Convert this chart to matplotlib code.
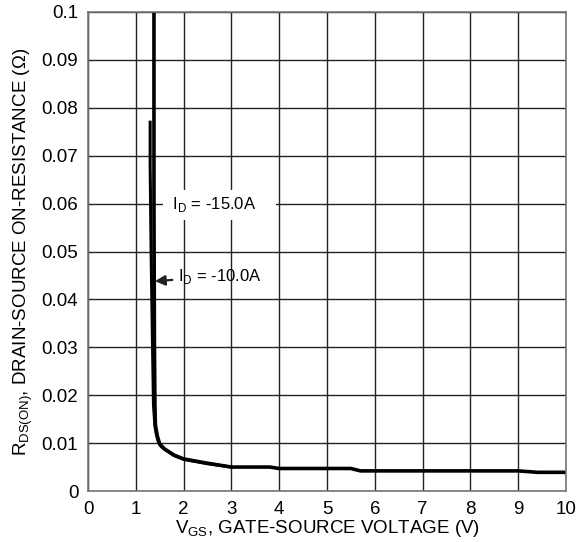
import matplotlib
matplotlib.use("Agg")
import matplotlib.pyplot as plt

plt.rcParams['font.family'] = ['Liberation Sans', 'DejaVu Sans']
plt.rcParams['mathtext.fontset'] = 'custom'
plt.rcParams['mathtext.rm'] = 'Liberation Sans'

# I_D = -15.0A curve
vgs_15 = [1.38, 1.38, 1.39, 1.40, 1.41, 1.45, 1.5, 1.6, 1.8, 2.0, 2.5, 3.0, 3.5, 3.8, 4.0, 5.0, 5.5, 5.7, 6.0, 7.0, 8.0, 9.0, 9.4, 10.0]
rds_15 = [0.1, 0.06, 0.03, 0.018, 0.0138, 0.0115, 0.0098, 0.0088, 0.0075, 0.0067, 0.0058, 0.0050, 0.0050, 0.0050, 0.0047, 0.0047, 0.0047, 0.0042, 0.0042, 0.0042, 0.0042, 0.0042, 0.0039, 0.0039]
# I_D = -10.0A curve
vgs_10 = [1.30, 1.30, 1.32, 1.35, 1.37, 1.40, 1.43, 1.47, 1.52, 1.6, 1.8, 2.0, 2.5, 3.0]
rds_10 = [0.077, 0.068, 0.05, 0.03, 0.018, 0.0135, 0.0118, 0.0103, 0.0094, 0.0087, 0.0074, 0.0066, 0.0057, 0.0050]

x_ticks = list(range(0, 11))
y_ticks = [0, 0.01, 0.02, 0.03, 0.04, 0.05, 0.06, 0.07, 0.08, 0.09, 0.1]
y_tick_labels = ['0', '0.01', '0.02', '0.03', '0.04', '0.05', '0.06', '0.07', '0.08', '0.09', '0.1']

fig = plt.figure(figsize=(5.86, 5.42), dpi=100)
ax = fig.add_axes([88/586, 1 - 491/542, (566-88)/586, (491-12)/542])

ax.plot(vgs_15, rds_15, color='black', lw=2.6, solid_joinstyle='round')
ax.plot(vgs_10, rds_10, color='black', lw=2.2, solid_joinstyle='round')

ax.set_xlim(0, 10)
ax.set_ylim(0, 0.1)
ax.set_xticks(x_ticks)
ax.set_yticks(y_ticks)
ax.set_yticklabels(y_tick_labels)
ax.tick_params(length=0, labelsize=13.5, pad=7, colors='black')
ax.grid(True, color='#222222', lw=1.0)
for s in ax.spines.values():
    s.set_color('#777777')
    s.set_linewidth(1.2)

ax.set_xlabel(r'V$_{\mathrm{GS}}$, GATE-SOURCE VOLTAGE (V)', fontsize=13.5, labelpad=0)
ax.set_ylabel(r'R$_{\mathrm{DS(ON)}}$, DRAIN-SOURCE ON-RESISTANCE ($\Omega$)', fontsize=13.5, labelpad=5)

ax.text(1.68, 0.0598, r' I$_{\mathrm{D}}$ = -15.0A    ', fontsize=12, ha='left', va='center',
        bbox=dict(facecolor='white', edgecolor='none', pad=4), zorder=5)
ax.annotate(r'I$_{\mathrm{D}}$ = -10.0A', xy=(1.40, 0.0438), xytext=(1.88, 0.0448),
            fontsize=12, ha='left', va='center',
            arrowprops=dict(arrowstyle='-|>', color='#222222', lw=1.6, mutation_scale=15,
                            shrinkA=2, shrinkB=0), zorder=5)

fig.savefig('out.png', dpi=100)
